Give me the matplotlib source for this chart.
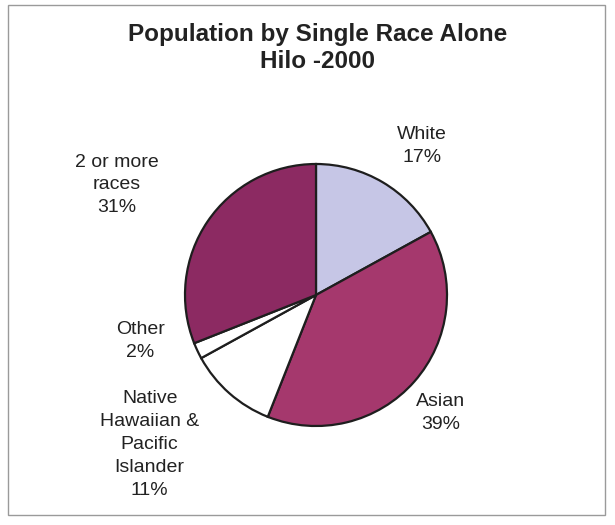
import matplotlib.pyplot as plt
from matplotlib.patches import Rectangle

plt.rcParams.update({"font.family": ["Liberation Sans", "DejaVu Sans"]})

# Data (clockwise from 12 o'clock)
categories = ["White", "Asian", "Native\nHawaiian &\nPacific\nIslander", "Other", "2 or more\nraces"]
shares = [17, 39, 11, 2, 31]
colors = ["#c6c6e6", "#a5386d", "#ffffff", "#ffffff", "#8c2a62"]
title = "Population by Single Race Alone\nHilo -2000"

# label anchor points in pie (data) units, radius = 1
label_xy = [(0.81, 1.14), (0.95, -0.90), (-1.27, -1.14), (-1.34, -0.35), (-1.52, 0.84)]

fig = plt.figure(figsize=(6.15, 5.25), dpi=100)
fig.patches.append(Rectangle((8 / 615, 10 / 525), 597 / 615, 510 / 525,
                             transform=fig.transFigure, fill=False,
                             edgecolor="#9a9a9a", linewidth=1.0))

fig.text(0.517, 1 - 48 / 525, title, ha="center", va="center",
         fontsize=17.5, fontweight="bold", color="#222222", linespacing=1.2)

r = 131
cx, cy = 316, 295
ax = fig.add_axes([(cx - r) / 615, (525 - cy - r) / 525, 2 * r / 615, 2 * r / 525])
ax.pie(shares, colors=colors, startangle=90, counterclock=False, radius=1,
       wedgeprops=dict(edgecolor="#1e1e1e", linewidth=1.6))
ax.set_xlim(-1, 1)
ax.set_ylim(-1, 1)
ax.set_aspect("equal")
ax.axis("off")

for cat, val, (x, y) in zip(categories, shares, label_xy):
    ax.text(x, y, f"{cat}\n{val}%", ha="center", va="center", fontsize=14,
            color="#222222", linespacing=1.45, clip_on=False)

fig.savefig("out.png", dpi=100)
